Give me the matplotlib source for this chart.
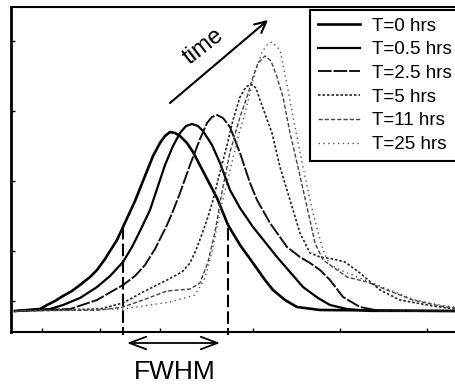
import matplotlib
matplotlib.use("Agg")
import matplotlib.pyplot as plt

plt.rcParams['font.family'] = ['Liberation Sans', 'DejaVu Sans']

# ---- data (channel position, intensity in arbitrary units, baseline = 0) ----
labels = ["T=0 hrs", "T=0.5 hrs", "T=2.5 hrs", "T=5 hrs", "T=11 hrs", "T=25 hrs"]

t0_x = [15, 40, 47, 55, 63, 72, 80, 90, 97, 105, 110, 117, 123, 135, 145, 153, 160, 165, 170, 175, 180, 187, 193, 205, 217, 228, 240, 253, 265, 273, 285, 297, 320, 455]
t0_y = [0, 2, 6, 10, 15, 20, 26, 34, 41, 52, 60, 71, 84, 110, 135, 155, 168, 175, 179, 178, 175, 168, 159, 136, 113, 86, 66, 48, 31, 21, 11, 4, 1, 0]

t05_x = [15, 50, 63, 80, 97, 110, 123, 132, 140, 150, 158, 165, 173, 180, 186, 192, 198, 203, 212, 220, 230, 240, 253, 265, 277, 290, 303, 318, 330, 347, 370, 455]
t05_y = [0, 2, 6, 13, 24, 35, 49, 64, 80, 101, 125, 146, 165, 178, 185, 187, 185, 180, 166, 148, 121, 103, 84, 69, 54, 39, 24, 13, 6, 2, 0, 0]

t25_x = [15, 70, 97, 123, 135, 145, 155, 162, 167, 173, 180, 190, 200, 207, 212, 217, 223, 230, 240, 250, 257, 270, 287, 300, 310, 320, 330, 343, 360, 380, 455]
t25_y = [0, 2, 11, 26, 35, 46, 62, 76, 86, 100, 118, 146, 172, 188, 194, 196, 193, 184, 158, 128, 111, 88, 64, 54, 48, 41, 31, 14, 4, 0, 0]

t5_x = [15, 100, 123, 143, 167, 182, 190, 196, 202, 207, 213, 220, 227, 233, 240, 246, 251, 256, 260, 272, 280, 290, 300, 310, 320, 333, 345, 360, 380, 400, 433, 455]
t5_y = [0, 2, 8, 19, 31, 39, 48, 61, 77, 91, 111, 139, 166, 191, 214, 224, 227, 223, 211, 178, 144, 111, 78, 58, 54, 52, 49, 38, 21, 11, 5, 2]

t11_x = [15, 100, 123, 143, 167, 190, 200, 208, 215, 222, 230, 240, 247, 253, 258, 265, 271, 277, 283, 290, 298, 307, 315, 323, 333, 347, 367, 387, 413, 440, 455]
t11_y = [0, 1, 4, 11, 20, 22, 28, 49, 79, 119, 159, 194, 214, 234, 248, 255, 250, 234, 214, 178, 144, 104, 68, 51, 44, 34, 29, 21, 11, 5, 3]

t25h_x = [15, 123, 150, 170, 195, 205, 212, 220, 230, 240, 245, 250, 255, 262, 267, 272, 280, 288, 295, 303, 313, 323, 330, 345, 365, 390, 415, 440, 455]
t25h_y = [0, 2, 6, 9, 16, 33, 59, 99, 141, 181, 198, 218, 238, 259, 266, 269, 261, 221, 184, 144, 98, 61, 46, 39, 31, 21, 11, 6, 4]

fwhm_left, fwhm_right = 123, 228
fwhm_top = [84, 83]

# ---- figure ----
fig = plt.figure(figsize=(4.55, 3.87), dpi=100)
W, H = 455.0, 387.0
ax = fig.add_axes([11 / W, (H - 332) / H, 455 / W, (332 - 7) / H])
ax.set_xlim(11, 466)
ax.set_ylim(-21, 304)

styles = [
    dict(color="black", lw=1.9, ls="-"),
    dict(color="black", lw=1.6, ls="-"),
    dict(color="#111111", lw=1.4, ls=(0, (7, 1))),
    dict(color="#222222", lw=1.2, ls=(0, (1.5, 1.2))),
    dict(color="#444444", lw=1.0, ls=(0, (3, 1.5))),
    dict(color="#555555", lw=1.0, ls=(0, (1, 2.5))),
]
series = [(t0_x, t0_y), (t05_x, t05_y), (t25_x, t25_y), (t5_x, t5_y), (t11_x, t11_y), (t25h_x, t25h_y)]
for (xs, ys), lab, st in zip(series, labels, styles):
    ax.plot(xs, ys, label=lab, **st)

# FWHM markers
for xv, top in zip((fwhm_left, fwhm_right), fwhm_top):
    ax.plot([xv, xv], [top, -24], color="black", lw=1.5, ls=(0, (6, 2)), clip_on=False)

ax.annotate("", xy=(220, -32), xytext=(127, -32), annotation_clip=False,
            arrowprops=dict(arrowstyle="<->,head_length=1.2,head_width=0.45",
                            color="black", lw=1.3, shrinkA=0, shrinkB=0))
ax.text(175, -61, "FWHM", fontsize=19, ha="center", va="center", clip_on=False)

# time arrow
ax.annotate("", xy=(268, 291), xytext=(170, 208),
            arrowprops=dict(arrowstyle="->,head_length=0.8,head_width=0.4",
                            color="black", lw=1.5, shrinkA=0, shrinkB=0))
ax.text(204, 265, "time", fontsize=17, rotation=38, ha="center", va="center",
        rotation_mode="anchor")

# spines & ticks
ax.spines["left"].set_linewidth(2.0)
ax.spines["bottom"].set_linewidth(1.5)
ax.spines["top"].set_linewidth(1.5)
ax.spines["right"].set_visible(False)
ax.set_xticks([42, 100, 160, 253, 340, 427])
ax.set_yticks([10, 60, 130, 200, 270])
ax.tick_params(direction="in", length=3, width=1, labelbottom=False, labelleft=False)

leg = ax.legend(loc="upper left", bbox_to_anchor=(310 / W, 1 - 10 / H),
                bbox_transform=fig.transFigure, borderaxespad=0, fontsize=13.5,
                handlelength=2.25, handletextpad=0.64, borderpad=0.4,
                labelspacing=0.35, fancybox=False, framealpha=1)
leg.get_frame().set_edgecolor("black")
leg.get_frame().set_linewidth(1.5)

fig.savefig("out.png", dpi=100)
